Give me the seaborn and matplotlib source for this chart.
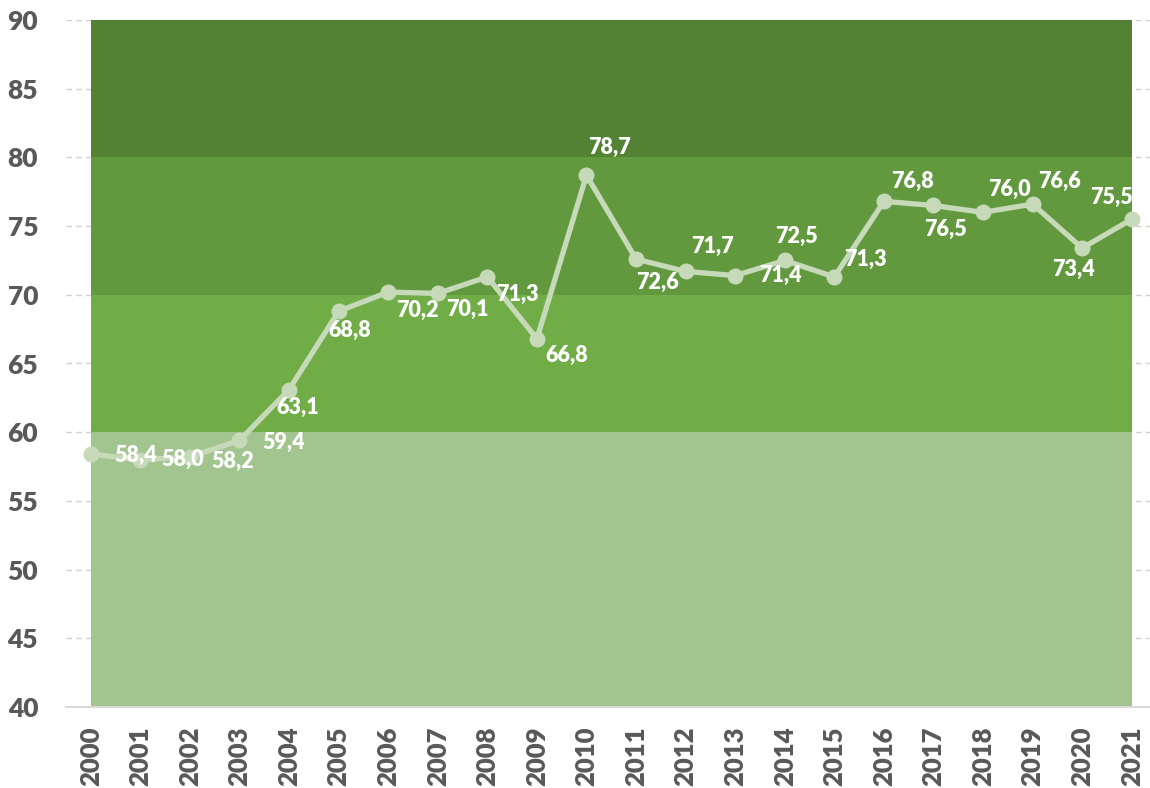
import numpy as np
import pandas as pd
import matplotlib
matplotlib.use('Agg')
import matplotlib.pyplot as plt
import seaborn as sns

# --- datos ---
years = list(range(2000, 2022))
values = [58.4, 58.0, 58.2, 59.4, 63.1, 68.8, 70.2, 70.1, 71.3, 66.8, 78.7,
          72.6, 71.7, 71.4, 72.5, 71.3, 76.8, 76.5, 76.0, 76.6, 73.4, 75.5]
band_edges = [40, 60, 70, 80, 90]
y_ticks = list(range(40, 95, 5))

# --- estilo ---
band_colors = ['#A2C48F', '#70AD47', '#62993E', '#548235']
line_color = '#C6DAB9'
text_gray = '#595959'
# label offsets in pixels (dx right, dy down) as placed in the original
label_offsets = [(45, 1), (42, 0), (43, 4), (44, 2), (9, 18), (11, 19), (29, 18),
                 (30, 16), (30, 17), (30, 17), (23, -28), (21, 23), (27, -25),
                 (45, 0), (12, -24), (31, -18), (29, -20), (12, 24), (26, -23),
                 (27, -23), (-9, 21), (-20, -22)]

sns.set_theme(style='white')
plt.rcParams['font.family'] = ['Lato', 'DejaVu Sans']

df = pd.DataFrame({'year': years, 'value': values})

fig = plt.figure(figsize=(11.5, 7.88), dpi=100)
ax = fig.add_axes([66 / 1150, 1 - 707 / 788, 1 - 66 / 1150, (707 - 20) / 788])

# bandas de fondo
for lo, hi, c in zip(band_edges[:-1], band_edges[1:], band_colors):
    ax.fill_between([years[0], years[-1]], lo, hi, color=c, lw=0, zorder=1)

sns.lineplot(data=df, x='year', y='value', ax=ax, color=line_color, lw=3.8,
             marker='o', markersize=11.5, markeredgewidth=0, zorder=3)

for yr, v, (dx, dy) in zip(years, values, label_offsets):
    ax.annotate(f"{v:.1f}".replace('.', ','), (yr, v), xytext=(dx, -dy),
                textcoords='offset pixels', ha='center', va='center',
                color='white', fontsize=15.5, fontweight='heavy', zorder=4)

ax.set_xlim(years[0] - 0.5, years[0] - 0.5 + (1150 - 66) / 49.57)
ax.set_ylim(band_edges[0], band_edges[-1])
ax.set_yticks(y_ticks)
ax.set_xticks(years)
ax.set_xticklabels([str(y) for y in years], rotation=90)
ax.yaxis.grid(True, color='#D0D0D0', ls=(0, (4, 3)), lw=1, zorder=0)
ax.set_axisbelow(True)
ax.tick_params(axis='y', length=0, pad=20, labelsize=19, labelcolor=text_gray)
ax.tick_params(axis='x', length=0, pad=14, labelsize=18.5, labelcolor=text_gray)
for lbl in ax.get_xticklabels() + ax.get_yticklabels():
    lbl.set_fontweight('heavy')
for s in ['top', 'right', 'left']:
    ax.spines[s].set_visible(False)
ax.spines['bottom'].set_color('#D9D9D9')
ax.spines['bottom'].set_linewidth(1.5)
ax.set_xlabel('')
ax.set_ylabel('')

fig.savefig('out.png', dpi=100)
